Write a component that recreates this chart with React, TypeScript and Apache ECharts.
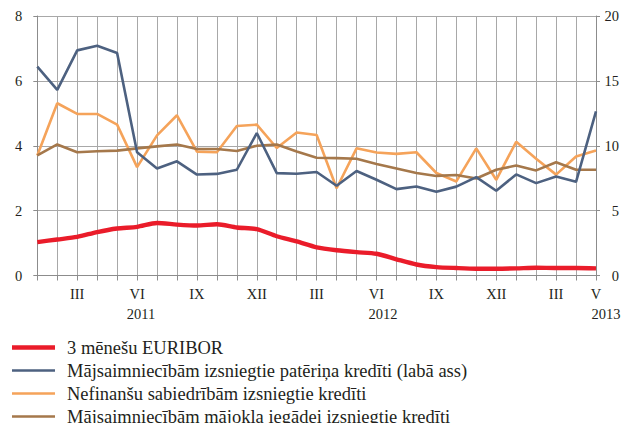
import React, { useEffect, useRef } from "react";
import * as echarts from "echarts";

const months = [
  "2011-01", "2011-02", "2011-03", "2011-04", "2011-05", "2011-06",
  "2011-07", "2011-08", "2011-09", "2011-10", "2011-11", "2011-12",
  "2012-01", "2012-02", "2012-03", "2012-04", "2012-05", "2012-06",
  "2012-07", "2012-08", "2012-09", "2012-10", "2012-11", "2012-12",
  "2013-01", "2013-02", "2013-03", "2013-04", "2013-05",
];

const romanMonths = ["I", "II", "III", "IV", "V", "VI", "VII", "VIII", "IX", "X", "XI", "XII"];
const shownMonthTicks = [
  "2011-03", "2011-06", "2011-09", "2011-12",
  "2012-03", "2012-06", "2012-09", "2012-12",
  "2013-03", "2013-05",
];
const yearLabelAt: Record<string, string> = {
  "2011-06": "2011",
  "2012-06": "2012",
  "2013-05": "2013",
};

const euribor = [
  1.03, 1.11, 1.19, 1.34, 1.45, 1.5, 1.62, 1.57, 1.54, 1.58, 1.48, 1.43,
  1.21, 1.05, 0.87, 0.78, 0.72, 0.67, 0.5, 0.34, 0.26, 0.23, 0.21, 0.21,
  0.22, 0.24, 0.23, 0.23, 0.22,
];
const consumer = [
  16.1, 14.3, 17.35, 17.7, 17.15, 9.5, 8.25, 8.8, 7.78, 7.83, 8.15, 10.98,
  7.89, 7.84, 7.98, 6.92, 8.05, 7.38, 6.66, 6.86, 6.45, 6.85, 7.58, 6.53,
  7.79, 7.12, 7.63, 7.22, 12.65,
];
const corporate = [
  3.7, 5.31, 4.98, 4.98, 4.65, 3.34, 4.32, 4.94, 3.82, 3.8, 4.61, 4.65,
  3.93, 4.41, 4.33, 2.69, 3.92, 3.79, 3.75, 3.8, 3.16, 2.9, 3.92, 2.95,
  4.12, 3.6, 3.11, 3.67, 3.85,
];
const housing = [
  3.7, 4.04, 3.8, 3.83, 3.85, 3.92, 3.98, 4.04, 3.9, 3.9, 3.84, 4.0,
  4.04, 3.82, 3.63, 3.62, 3.6, 3.44, 3.3, 3.16, 3.07, 3.1, 2.99, 3.26,
  3.39, 3.24, 3.49, 3.26, 3.26,
];

const seriesNames = [
  "3 mēnešu EURIBOR",
  "Mājsaimniecībām izsniegtie patēriņa kredīti (labā ass)",
  "Nefinanšu sabiedrībām izsniegtie kredīti",
  "Mājsaimniecībām mājokļa iegādei izsniegtie kredīti",
];
const seriesColors = ["#ea1c2a", "#4d6180", "#f5a35a", "#a5784b"];

const FONT = "Liberation Serif";
const TEXT = "#231f20";
const GRID = "#a8a8a8";
const AXIS = "#8c8c8c";

const THIN_ICON = "path://M0,0h1v0.05h-1z M0,1.1h43v2.5h-43z M0,4.65h1v0.05h-1z";

export default function App() {
  const ref = useRef<HTMLDivElement>(null);
  useEffect(() => {
    document.body.style.margin = "0";
    if (!ref.current) return;
    const chart = echarts.init(ref.current, null, { renderer: "svg" });
    chart.setOption({
      animation: false,
      textStyle: { fontFamily: FONT, color: TEXT },
      grid: { left: 37.3, right: 28, top: 16, bottom: 147.5 },
      legend: {
        orient: "vertical",
        left: 12,
        top: 338,
        height: 200,
        padding: 0,
        itemWidth: 43,
        itemHeight: 4.7,
        itemGap: 4,
        data: seriesNames.map((n, i) => ({
          name: n,
          icon: i === 0 ? "rect" : THIN_ICON,
          itemStyle: { color: seriesColors[i] },
        })),
        textStyle: {
          fontFamily: FONT,
          fontSize: 18.5,
          color: TEXT,
          lineHeight: 18,
          padding: [0, 0, 0, 7],
        },
      },
      xAxis: [
        {
          type: "category",
          data: months,
          boundaryGap: false,
          axisLine: { show: true, lineStyle: { color: AXIS, width: 1 } },
          axisTick: { show: true, interval: 0, length: 5, lineStyle: { color: AXIS } },
          splitLine: { show: true, interval: 0, lineStyle: { color: GRID, width: 1 } },
          axisLabel: {
            interval: 0,
            margin: 11,
            fontFamily: FONT,
            fontSize: 14.5,
            color: TEXT,
            formatter: (v: string) =>
              shownMonthTicks.includes(v) ? romanMonths[parseInt(v.slice(5), 10) - 1] : "",
          },
        },
        {
          type: "category",
          data: months,
          boundaryGap: false,
          position: "bottom",
          axisLine: { show: false },
          axisTick: { show: false },
          splitLine: { show: false },
          axisLabel: {
            interval: 0,
            margin: 31,
            fontFamily: FONT,
            fontSize: 14.5,
            color: TEXT,
            formatter: (v: string) => {
              const y = yearLabelAt[v];
              if (!y) return "";
              const key = y === "2011" ? "a" : y === "2012" ? "b" : "c";
              return `{${key}|${y}}`;
            },
            rich: {
              a: { fontFamily: FONT, fontSize: 14.5, color: TEXT, padding: [0, 0, 0, 8] },
              b: { fontFamily: FONT, fontSize: 14.5, color: TEXT, padding: [0, 0, 0, 13] },
              c: { fontFamily: FONT, fontSize: 14.5, color: TEXT, padding: [0, 0, 0, 20] },
            },
          },
        },
      ],
      yAxis: [
        {
          type: "value",
          min: 0,
          max: 8,
          interval: 2,
          position: "left",
          axisLine: { show: true, lineStyle: { color: AXIS } },
          axisTick: { show: true, length: 4, lineStyle: { color: AXIS } },
          splitLine: { show: true, lineStyle: { color: GRID, width: 1 } },
          axisLabel: { margin: 15, fontFamily: FONT, fontSize: 14.5, color: TEXT },
        },
        {
          type: "value",
          min: 0,
          max: 20,
          interval: 5,
          position: "right",
          axisLine: { show: true, lineStyle: { color: AXIS } },
          axisTick: { show: true, length: 4, lineStyle: { color: AXIS } },
          splitLine: { show: false },
          axisLabel: { margin: 23, align: "right", fontFamily: FONT, fontSize: 14.5, color: TEXT },
        },
      ],
      series: [
        {
          name: seriesNames[0],
          type: "line",
          data: euribor,
          yAxisIndex: 0,
          symbol: "none",
          smooth: 0.25,
          lineStyle: { color: seriesColors[0], width: 4.4 },
          itemStyle: { color: seriesColors[0] },
          z: 5,
        },
        {
          name: seriesNames[1],
          type: "line",
          data: consumer,
          yAxisIndex: 1,
          symbol: "none",
          lineStyle: { color: seriesColors[1], width: 2.6 },
          itemStyle: { color: seriesColors[1] },
          z: 4,
        },
        {
          name: seriesNames[2],
          type: "line",
          data: corporate,
          yAxisIndex: 0,
          symbol: "none",
          lineStyle: { color: seriesColors[2], width: 2.6 },
          itemStyle: { color: seriesColors[2] },
          z: 3,
        },
        {
          name: seriesNames[3],
          type: "line",
          data: housing,
          yAxisIndex: 0,
          symbol: "none",
          lineStyle: { color: seriesColors[3], width: 2.6 },
          itemStyle: { color: seriesColors[3] },
          z: 3,
        },
      ],
    });
    return () => chart.dispose();
  }, []);
  return <div ref={ref} style={{ width: 624, height: 423 }} />;
}
